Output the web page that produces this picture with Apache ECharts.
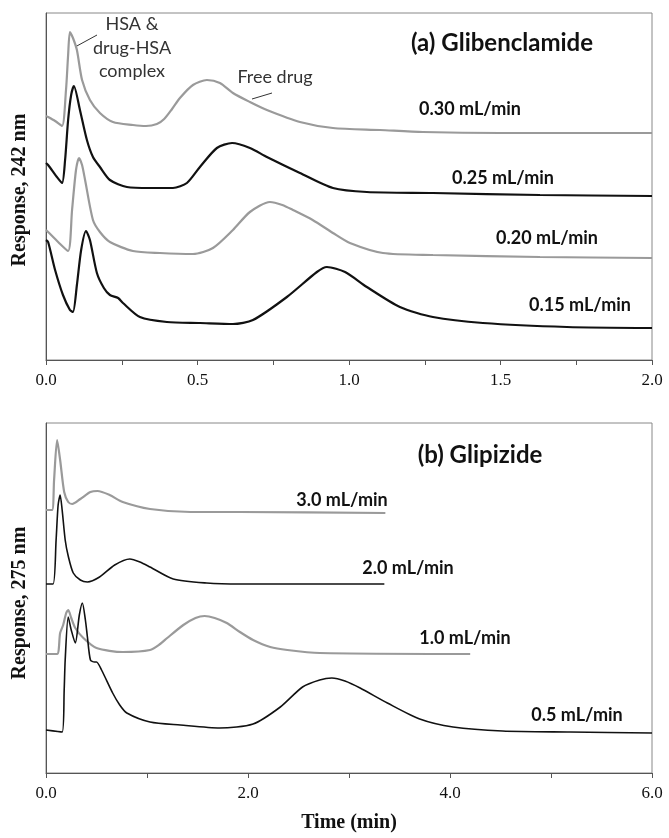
<!DOCTYPE html>
<html>
<head>
<meta charset="utf-8">
<script src="https://cdn.jsdelivr.net/npm/echarts@6/dist/echarts.min.js"></script>
<style>
  html, body { margin: 0; padding: 0; background: #fff; }
  #chart { width: 669px; height: 838px; }
</style>
</head>
<body>
<div id="chart"></div>
<script>
// (a) Glibenclamide, [time (min), response]
const glib030 = [[0,244],[0.007,243],[0.030,239],[0.053,234],[0.066,270],[0.073,305],[0.079,328],[0.089,322],[0.102,310],[0.119,280],[0.145,260],[0.178,247],[0.221,238],[0.287,235],[0.330,234],[0.366,236],[0.390,241],[0.416,251],[0.442,262],[0.485,275],[0.531,280],[0.574,277],[0.617,267],[0.673,258],[0.729,250],[0.838,238],[0.947,232],[1.102,230],[1.244,228],[1.498,227],[2.0,227]]
const glib025 = [[0,197],[0.007,195],[0.036,183],[0.053,177],[0.063,200],[0.073,240],[0.083,265],[0.092,274],[0.112,250],[0.135,220],[0.155,203],[0.178,193],[0.211,180],[0.267,173],[0.343,172],[0.419,172],[0.465,177],[0.508,193],[0.564,212],[0.614,217],[0.673,212],[0.729,203],[0.838,187],[0.947,172],[1.059,168],[1.277,167],[1.630,165],[2.0,164]]
const glib020 = [[0,130],[0.007,128],[0.040,118],[0.073,109],[0.086,150],[0.099,190],[0.109,202],[0.119,195],[0.129,180],[0.155,140],[0.178,128],[0.211,118],[0.287,109],[0.376,107],[0.485,106],[0.551,112],[0.617,130],[0.673,148],[0.739,158],[0.780,155],[0.815,150],[0.880,140],[0.947,127],[1.003,117],[1.112,107],[1.277,105],[1.630,103],[2.0,102]]
const glib015 = [[0,120],[0.007,118],[0.030,90],[0.056,65],[0.079,50],[0.089,48],[0.102,75],[0.116,110],[0.132,129],[0.145,120],[0.168,87],[0.191,72],[0.211,65],[0.238,62],[0.254,57],[0.310,43],[0.399,38],[0.508,37],[0.617,36],[0.683,40],[0.795,63],[0.894,88],[0.927,93],[0.987,88],[1.059,73],[1.168,53],[1.277,43],[1.442,37],[1.719,33],[2.0,32]]

// (b) Glipizide
const glip30 = [[0,263],[0.06,263],[0.08,293],[0.11,333],[0.14,313],[0.18,281],[0.22,271],[0.26,269],[0.34,274],[0.44,281],[0.51,282],[0.63,278],[0.76,271],[1.03,264],[1.43,261],[1.92,261],[3.36,260]]
const glip20 = [[0,189],[0.07,189],[0.10,233],[0.12,268],[0.14,278],[0.16,263],[0.19,233],[0.22,217],[0.27,200],[0.34,193],[0.41,191],[0.53,196],[0.68,208],[0.83,214],[0.93,211],[1.03,206],[1.26,194],[1.59,190],[1.92,189],[3.35,189]]
const glip10 = [[0,119],[0.11,119],[0.14,140],[0.17,148],[0.20,160],[0.22,163],[0.25,155],[0.29,145],[0.37,135],[0.50,125],[0.76,121],[1.03,123],[1.13,129],[1.20,135],[1.36,148],[1.48,155],[1.57,157],[1.67,155],[1.79,150],[1.92,141],[2.05,133],[2.22,126],[2.39,123],[2.71,120],[4.20,119]]
const glip05 = [[0,43],[0.16,41],[0.18,83],[0.19,113],[0.22,156],[0.25,143],[0.29,130],[0.33,158],[0.36,170],[0.39,153],[0.41,136],[0.44,113],[0.48,111],[0.50,111],[0.55,103],[0.66,80],[0.73,68],[0.80,60],[1.03,51],[1.33,48],[1.72,45],[2.05,49],[2.32,66],[2.54,86],[2.71,93],[2.83,95],[2.96,92],[3.11,85],[3.38,70],[3.70,54],[4.03,46],[4.52,42],[5.19,41],[6.0,40]]

const rateLabels = ['0.30 mL/min', '0.25 mL/min', '0.20 mL/min', '0.15 mL/min', '3.0 mL/min', '2.0 mL/min', '1.0 mL/min', '0.5 mL/min']

const GRAY = '#9a9a9a'
const BLACK = '#111'
const serif = 'Liberation Serif'
const sans = 'Lato'

function line(xi, data, color, width) {
  return {
    type: 'line', xAxisIndex: xi, yAxisIndex: xi, data: data,
    showSymbol: false, smooth: 0.25, silent: true,
    lineStyle: { color: color, width: width }
  }
}

function xAxis(gi, max, step, every) {
  return {
    type: 'value', gridIndex: gi, min: 0, max: max, interval: step,
    axisLine: { lineStyle: { color: '#555', width: 1 } },
    axisTick: { show: true, length: 5, lineStyle: { color: '#555' } },
    splitLine: { show: false },
    axisLabel: {
      margin: 12, color: '#111', fontFamily: serif, fontSize: 17,
      formatter: function (v) {
        const k = Math.round(v / step)
        return k % every === 0 ? v.toFixed(1) : ''
      }
    }
  }
}

function yAxis(gi, max) {
  return {
    type: 'value', gridIndex: gi, min: 0, max: max,
    axisLine: { show: true, lineStyle: { color: '#555', width: 1 } },
    axisTick: { show: false }, axisLabel: { show: false }, splitLine: { show: false }
  }
}

// centred text
function txt(cx, cy, s, size, bold, color, lh) {
  return {
    type: 'text', x: cx, y: cy, silent: true,
    style: { text: s, font: (bold ? 'bold ' : '') + size + 'px ' + sans, lineHeight: lh,
      fill: color || '#111', align: 'center', verticalAlign: 'middle' }
  }
}

// rotated axis title
function ytitle(cx, cy, s) {
  return {
    type: 'text', x: cx, y: cy, rotation: Math.PI / 2, silent: true,
    style: { text: s, font: 'bold 20px ' + serif, fill: '#111', align: 'center', verticalAlign: 'middle' }
  }
}

const chart = echarts.init(document.getElementById('chart'))
chart.setOption({
  animation: false,
  backgroundColor: '#fff',
  grid: [
    { left: 46, top: 13, width: 606, height: 347, show: true, borderColor: '#888', borderWidth: 1 },
    { left: 46, top: 423, width: 606, height: 350, show: true, borderColor: '#888', borderWidth: 1 }
  ],
  xAxis: [
    xAxis(0, 2, 0.25, 2),
    Object.assign(xAxis(1, 6, 1, 2), {
      name: 'Time (min)', nameLocation: 'middle', nameGap: 40,
      nameTextStyle: { fontFamily: serif, fontWeight: 'bold', fontSize: 20, color: '#111' }
    })
  ],
  yAxis: [
    yAxis(0, 347),
    yAxis(1, 350)
  ],
  series: [
    line(0, glib030, GRAY, 2.2),
    line(0, glib025, BLACK, 2.2),
    line(0, glib020, GRAY, 2.2),
    line(0, glib015, BLACK, 2.2),
    line(1, glip30, GRAY, 2.2),
    line(1, glip20, BLACK, 1.6),
    line(1, glip10, GRAY, 2.2),
    line(1, glip05, BLACK, 1.6)
  ],
  graphic: [
    ytitle(20, 190, 'Response, 242 nm'),
    ytitle(20, 603, 'Response, 275 nm'),
    txt(502, 43, '(a) Glibenclamide', 24, true),
    txt(480, 455, '(b) Glipizide', 24, true),
    txt(470, 109, rateLabels[0], 18, true),
    txt(503, 178, rateLabels[1], 18, true),
    txt(547, 238, rateLabels[2], 18, true),
    txt(580, 305, rateLabels[3], 18, true),
    txt(342, 500, rateLabels[4], 18, true),
    txt(408, 568, rateLabels[5], 18, true),
    txt(465, 638, rateLabels[6], 18, true),
    txt(577, 715, rateLabels[7], 18, true),
    txt(132, 48, 'HSA &\ndrug-HSA\ncomplex', 18, false, '#333', 23.5),
    txt(275, 77, 'Free drug', 18, false, '#333'),
    { type: 'line', silent: true, shape: { x1: 97, y1: 35, x2: 75, y2: 47 }, style: { stroke: '#333', lineWidth: 1 } },
    { type: 'line', silent: true, shape: { x1: 272, y1: 93, x2: 252, y2: 99 }, style: { stroke: '#333', lineWidth: 1 } }
  ]
})
</script>
</body>
</html>
